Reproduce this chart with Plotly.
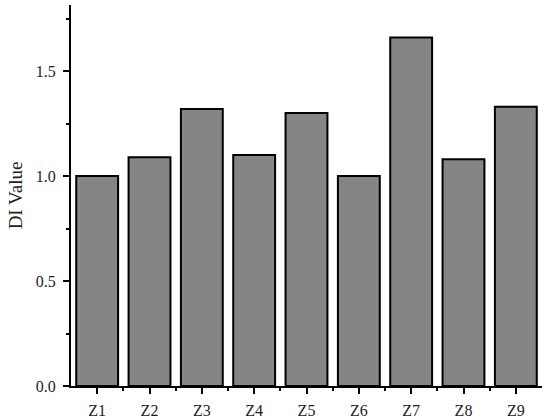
import plotly.graph_objects as go

categories = ["Z1", "Z2", "Z3", "Z4", "Z5", "Z6", "Z7", "Z8", "Z9"]
di_values = [1.00, 1.09, 1.32, 1.10, 1.30, 1.00, 1.66, 1.08, 1.33]
y_ticks = [0.0, 0.5, 1.0, 1.5]

positions = list(range(len(categories)))

fig = go.Figure()
fig.add_trace(
    go.Bar(
        x=positions,
        y=di_values,
        width=0.8,
        marker=dict(color="#858585", line=dict(color="black", width=2)),
        showlegend=False,
    )
)

font_family = "Liberation Serif, DejaVu Serif, serif"

fig.update_layout(
    width=550,
    height=418,
    margin=dict(l=71, r=8, t=5, b=32),
    plot_bgcolor="white",
    paper_bgcolor="white",
    font=dict(family=font_family, size=16, color="#222"),
)
fig.update_xaxes(
    range=[-0.5, 8.5],
    tickvals=positions,
    ticktext=categories,
    ticks="outside",
    ticklen=6,
    tickwidth=2,
    tickcolor="black",
    ticklabelstandoff=3,
    showline=True,
    linecolor="black",
    linewidth=2,
    showgrid=False,
    zeroline=False,
    automargin=False,
    minor=dict(tickvals=[p + 0.5 for p in positions[:-1]], ticks="outside",
               ticklen=3, tickwidth=2, tickcolor="black"),
)
fig.update_yaxes(
    range=[0, 1.815],
    tickvals=y_ticks,
    tickformat=".1f",
    ticks="outside",
    ticklen=6,
    tickwidth=2,
    tickcolor="black",
    ticklabelstandoff=4,
    showline=True,
    linecolor="black",
    linewidth=2,
    showgrid=False,
    zeroline=False,
    automargin=False,
    title=dict(text="DI Value", font=dict(size=19), standoff=8),
    minor=dict(tickvals=[0.25, 0.75, 1.25, 1.75], ticks="outside",
               ticklen=3, tickwidth=2, tickcolor="black"),
)

fig.write_html(
    "out.html",
    config={"displayModeBar": False},
    post_script="document.body.style.margin='0';",
)
